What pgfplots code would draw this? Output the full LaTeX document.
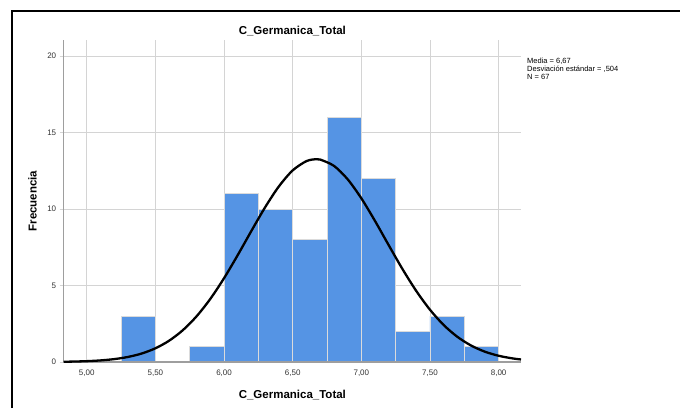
\documentclass[border=0pt]{standalone}
\usepackage{fontspec}
\setmainfont{Liberation Sans}
\usepackage{pgfplots}
\pgfplotsset{compat=1.18}

\definecolor{barblue}{HTML}{5594E4}
\definecolor{gridgray}{HTML}{D4D4D4}
\definecolor{axisgray}{HTML}{9E9E9E}
\definecolor{labelgray}{HTML}{333333}

% Histogram counts per 0.25-wide bin (bin centre, frequency)
\pgfplotstableread{
x      f
5.375  3
5.875  1
6.125  11
6.375  10
6.625  8
6.875  16
7.125  12
7.375  2
7.625  3
7.875  1
}\bins

\begin{document}
\begin{tikzpicture}
% outer frame (top and left edges)
\draw[line width=2.2pt] (12pt,0pt) -- (12pt,397pt) -- (680pt,397pt);

\begin{axis}[
  at={(63.7pt,46pt)}, anchor=south west,
  scale only axis, width=457.3pt, height=322pt,
  xmin=4.832, xmax=8.163, ymin=0, ymax=21.05,
  axis lines*=left,
  axis line style={draw=axisgray, line width=1.2pt},
  xtick={5,5.5,6,6.5,7,7.5,8},
  ytick={0,5,10,15,20},
  grid=major,
  major grid style={draw=gridgray, line width=0.9pt},
  tick align=outside,
  major tick length=4pt,
  xtick style={draw=none},
  ytick style={draw=gridgray, line width=0.9pt},
  /pgf/number format/assume math mode=true,
  xticklabel style={font=\fontsize{8}{9}\selectfont, text=labelgray,
    /pgf/number format/.cd, fixed, fixed zerofill, precision=2, use comma, 1000 sep={}},
  yticklabel style={font=\fontsize{8}{9}\selectfont, text=labelgray},
  title={C\_Germanica\_Total},
  title style={font=\bfseries\fontsize{11.5}{13}\selectfont,
    at={(axis description cs:0.5,1)}, anchor=base},
  xlabel={C\_Germanica\_Total},
  xlabel style={font=\bfseries\fontsize{11.5}{13}\selectfont,
    at={(axis description cs:0.5,0)}, anchor=base, yshift=-36pt},
  ylabel={Frecuencia},
  ylabel style={font=\bfseries\fontsize{11.5}{13}\selectfont,
    at={(axis description cs:0,0.5)}, anchor=base, yshift=27pt},
]
\addplot[ybar, bar width=0.25, bar shift=0pt,
         fill=barblue, draw=white!86!black, line width=0.9pt]
  table[x=x, y=f] {\bins};

% baseline redrawn over the bar edges
\addplot[axisgray, line width=1.2pt] coordinates {(4.832,0) (8.163,0)};

% fitted normal curve (mean 6.67, sd 0.504, N = 67, bin width 0.25)
\addplot[black, line width=2.3pt, smooth] coordinates {
  (4.83,0.017) (4.9,0.028) (5.0,0.055) (5.1,0.104) (5.2,0.189)
  (5.3,0.330) (5.4,0.554) (5.5,0.896) (5.6,1.393) (5.7,2.081)
  (5.8,2.989) (5.9,4.127) (6.0,5.480) (6.1,6.995) (6.2,8.583)
  (6.3,10.127) (6.4,11.487) (6.5,12.526) (6.6,13.132) (6.67,13.259)
  (6.7,13.236) (6.8,12.825) (6.9,11.948) (7.0,10.701) (7.1,9.214)
  (7.2,7.627) (7.3,6.071) (7.4,4.645) (7.5,3.417) (7.6,2.416)
  (7.7,1.643) (7.8,1.074) (7.9,0.675) (8.0,0.408) (8.1,0.237)
  (8.163,0.165)
};
\end{axis}

\node[anchor=north west, align=left, inner sep=0pt,
      font=\fontsize{7.5}{8}\selectfont] at (527pt,350pt)
  {Media = 6,67\\Desviación estándar = ,504\\N = 67};

% page is the full 680 x 408 canvas
\pgfresetboundingbox
\useasboundingbox (0pt,0pt) rectangle (680pt,408pt);
\end{tikzpicture}
\end{document}
